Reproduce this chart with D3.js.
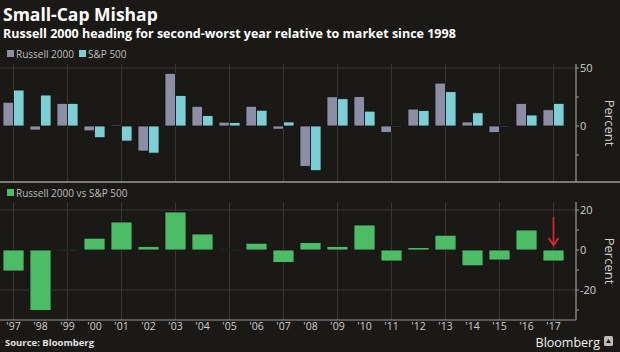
<!DOCTYPE html>
<html>
<head>
<meta charset="utf-8">
<script src="https://cdn.jsdelivr.net/npm/d3@7"></script>
<style>
  body { margin: 0; background: #1b1916; }
  svg { display: block; font-family: "Open Sans", "Noto Sans", sans-serif; }
</style>
</head>
<body>
<div id="chart"></div>
<script>
// Yearly returns, percent
const years = ['97','98','99','00','01','02','03','04','05','06','07','08','09','10','11','12','13','14','15','16','17'];
const russell = [20.5, -3.5, 19.5, -4.2, 1.0, -21.6, 45.4, 17.0, 3.3, 17.0, -2.7, -34.8, 25.2, 25.3, -5.5, 14.6, 37.0, 3.5, -5.7, 19.5, 14.0];
const sp500   = [31.0, 26.7, 19.5, -10.1, -13.0, -23.4, 26.4, 9.0, 3.0, 13.6, 3.5, -38.5, 23.5, 12.8, 0.0, 13.4, 29.6, 11.4, -0.7, 9.5, 19.5];
const spread  = [-10.5, -30.2, 0.1, 5.9, 14.0, 1.8, 19.0, 8.0, 0.3, 3.4, -6.2, 3.7, 1.7, 12.5, -5.5, 1.2, 7.4, -7.9, -5.0, 10.0, -5.5];
const topTicks = [50, 0];
const topMinor = [25, -25];
const botTicks = [20, 0, -20];
const botMinor = [10, -10, -30];

const W = 620, H = 352;
const axisX = 576;
const C = {
  bg: '#1b1916', grid: '#3a3733', axis: '#9c9a97', text: '#cfcfcf',
  russell: '#8d8ea6', sp: '#7ccfd4', green: '#4cbc67', red: '#e3283a'
};

const svg = d3.select('#chart').append('svg')
  .attr('width', W).attr('height', H);

svg.append('rect').attr('width', W).attr('height', H).attr('fill', C.bg);

// Title
svg.append('text').attr('x', 3).attr('y', 21)
  .attr('fill', '#fff').style('font-size', '17.5px').style('font-weight', 'bold')
  .text('Small-Cap Mishap');
svg.append('text').attr('x', 3).attr('y', 38)
  .attr('fill', '#fff').style('font-size', '12.5px').style('font-weight', 'bold')
  .text('Russell 2000 heading for second-worst year relative to market since 1998');

// Scales
const x = d3.scaleBand().domain(years).range([0, 567])
  .paddingInner(0.22).paddingOuter(0.11);
const x1 = d3.scaleBand().domain(['r', 's']).range([0, x.bandwidth()]);

const yTop = d3.scaleLinear().domain([0, 50]).range([126, 68]);
const yBot = d3.scaleLinear().domain([0, 20]).range([250, 210]);

// Vertical grid lines (every other year)
function vGrid(y0, y1) {
  svg.append('g').selectAll('line')
    .data(years.filter((d, i) => i % 2 === 0))
    .join('line')
    .attr('x1', d => x(d) + x.bandwidth() / 2).attr('x2', d => x(d) + x.bandwidth() / 2)
    .attr('y1', y0).attr('y2', y1)
    .attr('stroke', C.grid).attr('stroke-width', 1);
}
vGrid(64, 182);
vGrid(202, 320);

// Horizontal grid lines
svg.append('g').selectAll('line').data(topTicks.filter(d => d !== 0)).join('line')
  .attr('x1', 0).attr('x2', axisX).attr('y1', d => yTop(d)).attr('y2', d => yTop(d))
  .attr('stroke', C.grid);
svg.append('g').selectAll('line').data(botTicks.filter(d => d !== 0)).join('line')
  .attr('x1', 0).attr('x2', axisX).attr('y1', d => yBot(d)).attr('y2', d => yBot(d))
  .attr('stroke', C.grid);

// Legends
function legendItem(lx, ly, color, label) {
  svg.append('rect').attr('x', lx).attr('y', ly - 4).attr('width', 7).attr('height', 7)
    .attr('fill', color);
  svg.append('text').attr('x', lx + 9).attr('y', ly + 3.5)
    .attr('fill', '#bdbdbd').style('font-size', '10px').text(label);
}
legendItem(7, 54, C.russell, 'Russell 2000');
legendItem(79, 54, C.sp, 'S&P 500');
legendItem(7, 193, C.green, 'Russell 2000 vs S&P 500');

// Top bars
const pairs = years.map((y, i) => ({ year: y, r: russell[i], s: sp500[i] }));
const gTop = svg.append('g');
gTop.selectAll('g').data(pairs).join('g')
  .attr('transform', d => `translate(${x(d.year)},0)`)
  .selectAll('rect')
  .data(d => [{ k: 'r', v: d.r }, { k: 's', v: d.s }])
  .join('rect')
  .attr('x', d => x1(d.k))
  .attr('width', x1.bandwidth())
  .attr('y', d => Math.min(yTop(d.v), yTop(0)))
  .attr('height', d => Math.max(1, Math.abs(yTop(d.v) - yTop(0))))
  .attr('fill', d => d.k === 'r' ? C.russell : C.sp)
  .attr('stroke', '#121110').attr('stroke-width', 0.8);

// Bottom bars
svg.append('g').selectAll('rect')
  .data(years.map((y, i) => ({ year: y, v: spread[i] })))
  .join('rect')
  .attr('x', d => x(d.year))
  .attr('width', x.bandwidth())
  .attr('y', d => Math.min(yBot(d.v), yBot(0)))
  .attr('height', d => Math.max(1, Math.abs(yBot(d.v) - yBot(0))))
  .attr('fill', C.green)
  .attr('stroke', '#121110').attr('stroke-width', 0.8);

// Right axes
function rightAxis(scale, y0, y1, ticks, minor) {
  const g = svg.append('g');
  g.append('line').attr('x1', axisX).attr('x2', axisX).attr('y1', y0).attr('y2', y1)
    .attr('stroke', C.axis).attr('stroke-width', 1.2);
  g.selectAll('.tk').data(ticks.concat(minor)).join('line')
    .attr('x1', axisX).attr('x2', axisX + 3)
    .attr('y1', d => scale(d)).attr('y2', d => scale(d))
    .attr('stroke', C.axis);
  g.selectAll('text').data(ticks).join('text')
    .attr('x', axisX + 4).attr('y', d => scale(d) + 4)
    .attr('fill', C.text).style('font-size', '11px')
    .text(d => d < 0 ? '-' + Math.abs(d) : d);
  g.append('text')
    .attr('transform', `translate(${605},${(y0 + y1) / 2}) rotate(90)`)
    .attr('text-anchor', 'middle')
    .attr('fill', C.text).style('font-size', '13px')
    .text('Percent');
}
rightAxis(yTop, 64, 182, topTicks, topMinor);
rightAxis(yBot, 202, 320, botTicks, botMinor);

// Panel separators
svg.append('line').attr('x1', 0).attr('x2', W).attr('y1', 182).attr('y2', 182)
  .attr('stroke', C.axis).attr('stroke-width', 1.5);
svg.append('line').attr('x1', 0).attr('x2', axisX).attr('y1', 320).attr('y2', 320)
  .attr('stroke', C.axis).attr('stroke-width', 1.2);

// X axis labels
svg.append('g').selectAll('text').data(years).join('text')
  .attr('x', d => x(d) + x.bandwidth() / 2).attr('y', 330)
  .attr('text-anchor', 'middle')
  .attr('fill', C.text).style('font-size', '10.5px')
  .text(d => "'" + d);

// Red arrow on 2017
const ax = x('17') + x.bandwidth() / 2;
svg.append('line').attr('x1', ax).attr('x2', ax)
  .attr('y1', yBot(16.5)).attr('y2', yBot(2.5))
  .attr('stroke', C.red).attr('stroke-width', 1.6);
svg.append('path')
  .attr('d', `M${ax - 5},${yBot(6)} L${ax},${yBot(2.5)} L${ax + 5},${yBot(6)}`)
  .attr('fill', 'none').attr('stroke', C.red).attr('stroke-width', 1.6);

// Footer
svg.append('text').attr('x', 5).attr('y', 346)
  .attr('fill', '#e0e0e0').style('font-size', '9.5px').style('font-weight', 'bold')
  .text('Source: Bloomberg');
svg.append('text').attr('x', 600).attr('y', 347)
  .attr('text-anchor', 'end')
  .attr('fill', '#f2f2f2').style('font-size', '12.5px')
  .text('Bloomberg');
svg.append('rect').attr('x', 604).attr('y', 336).attr('width', 9).attr('height', 10)
  .attr('rx', 1.5).attr('fill', '#bdbdbd');
svg.append('path').attr('d', 'M606,343 L608.5,339 L611,343 Z').attr('fill', C.bg);
</script>
</body>
</html>
